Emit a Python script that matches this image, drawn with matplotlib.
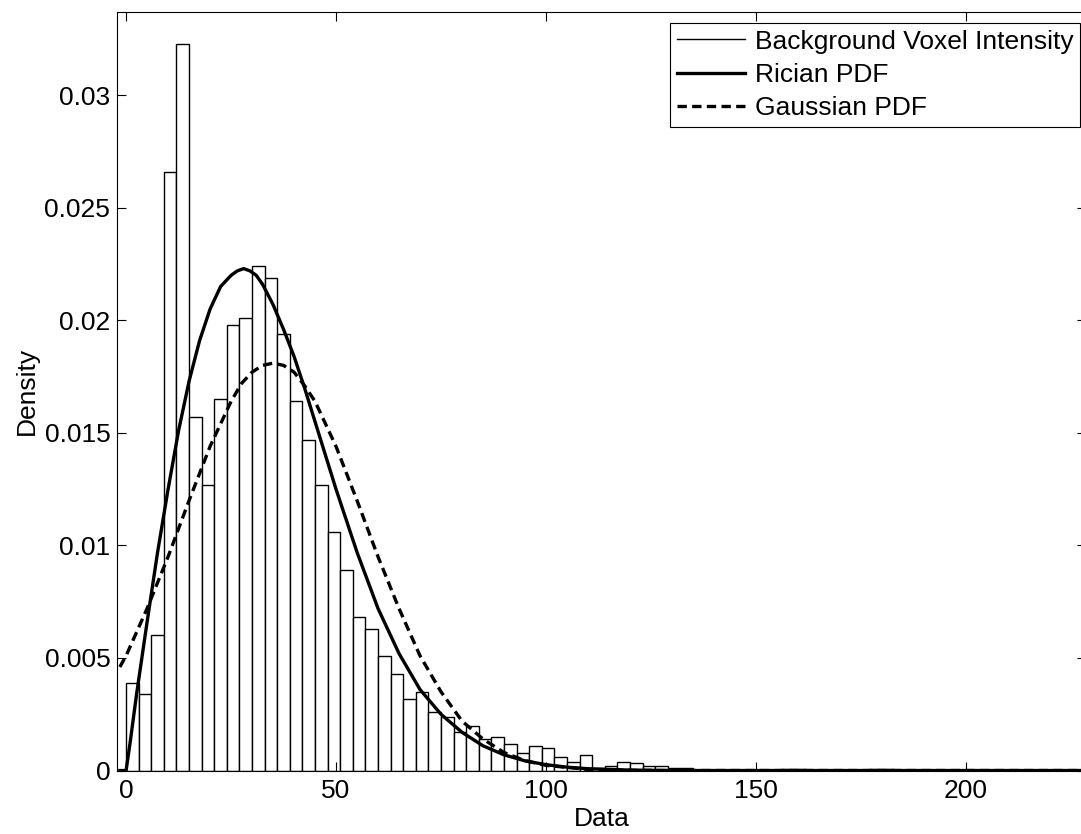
import numpy as np
import matplotlib
matplotlib.use("Agg")
import matplotlib.pyplot as plt
from matplotlib.ticker import FuncFormatter
from matplotlib.lines import Line2D

plt.rcParams['font.family'] = ['Liberation Sans', 'DejaVu Sans']

# histogram of background voxel intensity, bins of width 3 starting at 0
bin_width = 3
hist_density = [
    0.0039, 0.0034, 0.0060, 0.0266, 0.0323, 0.0157, 0.0127, 0.0165, 0.0198, 0.0201,
    0.0224, 0.0219, 0.0194, 0.0164, 0.0147, 0.0127, 0.0106, 0.0089, 0.0068, 0.0063,
    0.0051, 0.0043, 0.0032, 0.0035, 0.0026, 0.0024, 0.0017, 0.0020, 0.0014, 0.0015,
    0.0012, 0.0008, 0.0011, 0.0010, 0.0006, 0.0004, 0.0007, 0.0001, 0.0002, 0.0004,
    0.00035, 0.0002, 0.0002, 0.0001, 0.0001, 0.00003, 0.00003, 0.00003, 0.00003, 0.00003,
    0.00003, 0.00002, 0.00008, 0.00008, 0.00002, 0.00002, 0.00002, 0.00002, 0.00004, 0.00005,
    0.00005, 0.00004, 0.00002, 0.00002, 0.00002, 0.00002, 0.00002, 0.00002, 0.00002, 0.00002,
    0.00002, 0.00002, 0.00002, 0.00002, 0.00002, 0.00002,
]

# fitted curves
rician_x = [-1.5, 0, 1, 2.5, 5, 7.5, 10, 12.5, 15, 17.5, 20, 22.5, 25, 26.5, 28, 29.5, 31,
            32.5, 35, 37.5, 40, 42.5, 45, 47.5, 50, 55, 60, 65, 70, 75, 80, 85, 90, 95,
            100, 105, 110, 120, 130, 230]
rician_y = [0, 0, 0.0013, 0.0034, 0.0066, 0.0097, 0.0125, 0.0151, 0.0173, 0.0191, 0.0205,
            0.0215, 0.0220, 0.0222, 0.0223, 0.0222, 0.0220, 0.0216, 0.0207, 0.0196, 0.0184,
            0.0170, 0.0155, 0.0140, 0.0125, 0.0097, 0.0072, 0.0052, 0.0036, 0.0025, 0.0017,
            0.0011, 0.0007, 0.00043, 0.00026, 0.00015, 0.00008, 0.00002, 0, 0]

gauss_x = [-1.5, 0, 5, 10, 15, 20, 25, 27.5, 30, 32.5, 35, 37.5, 40, 42.5, 45, 50, 55, 60,
           65, 70, 75, 80, 85, 90, 95, 100, 110, 120, 130, 230]
gauss_y = [0.0046, 0.0051, 0.0072, 0.0095, 0.0120, 0.0144, 0.0164, 0.0172, 0.0177, 0.0180,
           0.0181, 0.0180, 0.0177, 0.0171, 0.0164, 0.0144, 0.0120, 0.0095, 0.0072, 0.0051,
           0.0035, 0.0022, 0.0014, 0.0008, 0.00044, 0.00023, 0.00005, 0.00001, 0, 0]

fig = plt.figure(figsize=(10.81, 8.34), dpi=100)
ax = fig.add_axes([0.1085, 0.0761, 0.896, 0.9095])

lefts = np.arange(len(hist_density)) * bin_width
ax.bar(lefts, hist_density, width=bin_width, align='edge', facecolor='white',
       edgecolor='black', linewidth=1.0)
ax.plot(rician_x, rician_y, color='black', linewidth=2.4)
ax.plot(gauss_x, gauss_y, color='black', linewidth=2.4, dashes=(2.8, 1.6))

ax.set_xlim(-2.1, 228.6)
ax.set_ylim(0, 0.0337)
ax.set_xticks([0, 50, 100, 150, 200])
ax.set_yticks([0, 0.005, 0.01, 0.015, 0.02, 0.025, 0.03])
ax.yaxis.set_major_formatter(FuncFormatter(lambda v, p: f"{v:g}"))
ax.tick_params(direction='in', top=True, right=True, length=6.5, width=0.8,
               labelsize=19)
ax.tick_params(axis='x', pad=6)
ax.tick_params(axis='y', pad=5)
for s in ax.spines.values():
    s.set_linewidth(0.8)

ax.set_xlabel('Data', fontsize=19, labelpad=3)
ax.set_ylabel('Density', fontsize=19, labelpad=4)

handles = [Line2D([], [], color='black', linewidth=1.0),
           Line2D([], [], color='black', linewidth=2.4),
           Line2D([], [], color='black', linewidth=2.4, dashes=(2.8, 1.6))]
labels = ['Background Voxel Intensity', 'Rician PDF', 'Gaussian PDF']
leg = ax.legend(handles, labels, loc='upper right', bbox_to_anchor=(0.999, 0.9724),
                bbox_transform=fig.transFigure, borderaxespad=0, fontsize=19,
                handlelength=2.6, handletextpad=0.35, labelspacing=0.35,
                borderpad=0.25, fancybox=False, framealpha=1)
leg.get_frame().set_edgecolor('black')
leg.get_frame().set_linewidth(0.8)

fig.savefig('out.png', dpi=100)
